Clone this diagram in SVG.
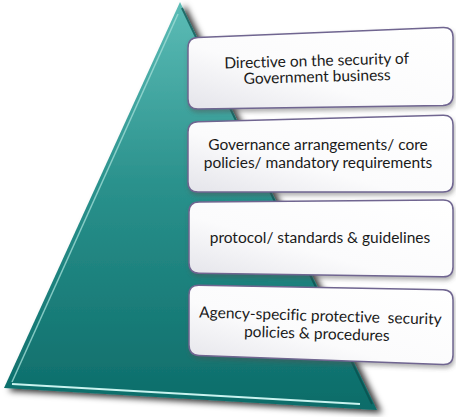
<svg xmlns="http://www.w3.org/2000/svg" width="456" height="417" viewBox="0 0 456 417">
<style>
.box{fill:url(#boxg);stroke:#6f6590;stroke-width:1.5;filter:url(#bshadow)}
.t{font-family:Lato,"Open Sans","Liberation Sans",sans-serif;font-size:15.5px;fill:#1a1a1a;text-anchor:middle;font-variant-ligatures:none}
</style>
<defs>
<linearGradient id="tg" x1="0" y1="0" x2="0" y2="1">
<stop offset="0" stop-color="#5cbcb6"/>
<stop offset="0.45" stop-color="#2a918c"/>
<stop offset="1" stop-color="#0c6c69"/>
</linearGradient>
<linearGradient id="boxg" x1="1" y1="0" x2="0" y2="1">
<stop offset="0" stop-color="#ffffff"/>
<stop offset="0.6" stop-color="#fbfbfc"/>
<stop offset="1" stop-color="#e4e4ea"/>
</linearGradient>
<filter id="tshadow" x="-20%" y="-20%" width="140%" height="140%">
<feDropShadow dx="5" dy="3" stdDeviation="3" flood-color="#000" flood-opacity="0.8"/>
</filter>
<filter id="bshadow" x="-10%" y="-20%" width="120%" height="150%">
<feDropShadow dx="1" dy="3" stdDeviation="2" flood-color="#555" flood-opacity="0.45"/>
</filter>
</defs>
<g id="pyramid">
<polygon points="180,2 4,388 377,410" fill="url(#tg)" filter="url(#tshadow)"/>
<polyline points="178,14 12,382" fill="none" stroke="#9fdcd6" stroke-width="1.5" opacity="0.8"/>
<polyline points="12,384 360,404" fill="none" stroke="#c9f3ef" stroke-width="2"/>
<polyline points="182,8 372,404" fill="none" stroke="#0a4c4a" stroke-width="2" opacity="0.7"/>
</g>
<g id="box1">
<path class="box" d="M198,37.6 L443,27.4 Q453,27 453,37 L453,95 Q453,105 443,105.4 L198,108.9 Q188,109 188,99 L188,48 Q188,38 198,37.6 Z"/>
<g transform="rotate(-1.5 317 73)">
<text class="t" x="317" y="66">Directive on the security of</text>
<text class="t" x="317" y="82">Government business</text>
</g>
</g>
<g id="box2">
<path class="box" d="M198,121.7 L443,115.3 Q453,115 453,125 L453,182 Q453,192 443,192 L198,192 Q188,192 188,182 L188,132 Q188,122 198,121.7 Z"/>
<text class="t" x="318" y="150">Governance arrangements/ core</text>
<text class="t" x="318" y="168">policies/ mandatory requirements</text>
</g>
<g id="box3">
<path class="box" d="M199,201.9 L443,200.1 Q453,200 453,210 L453,267 Q453,277 443,276.8 L199,273.2 Q189,273 189,263 L189,212 Q189,202 199,201.9 Z"/>
<text class="t" x="320" y="243">protocol/ standards &amp; guidelines</text>
</g>
<g id="box4">
<path class="box" d="M199,285.2 L443,289.8 Q453,290 453,300 L453,355 Q453,365 443,364.6 L199,355.4 Q189,355 189,345 L189,295 Q189,285 199,285.2 Z"/>
<g transform="rotate(1.7 320 330)">
<text class="t" x="320" y="321" xml:space="preserve">Agency-specific protective  security</text>
<text class="t" x="317" y="339">policies &amp; procedures</text>
</g>
</g>
<g id="connectors"/>
</svg>
